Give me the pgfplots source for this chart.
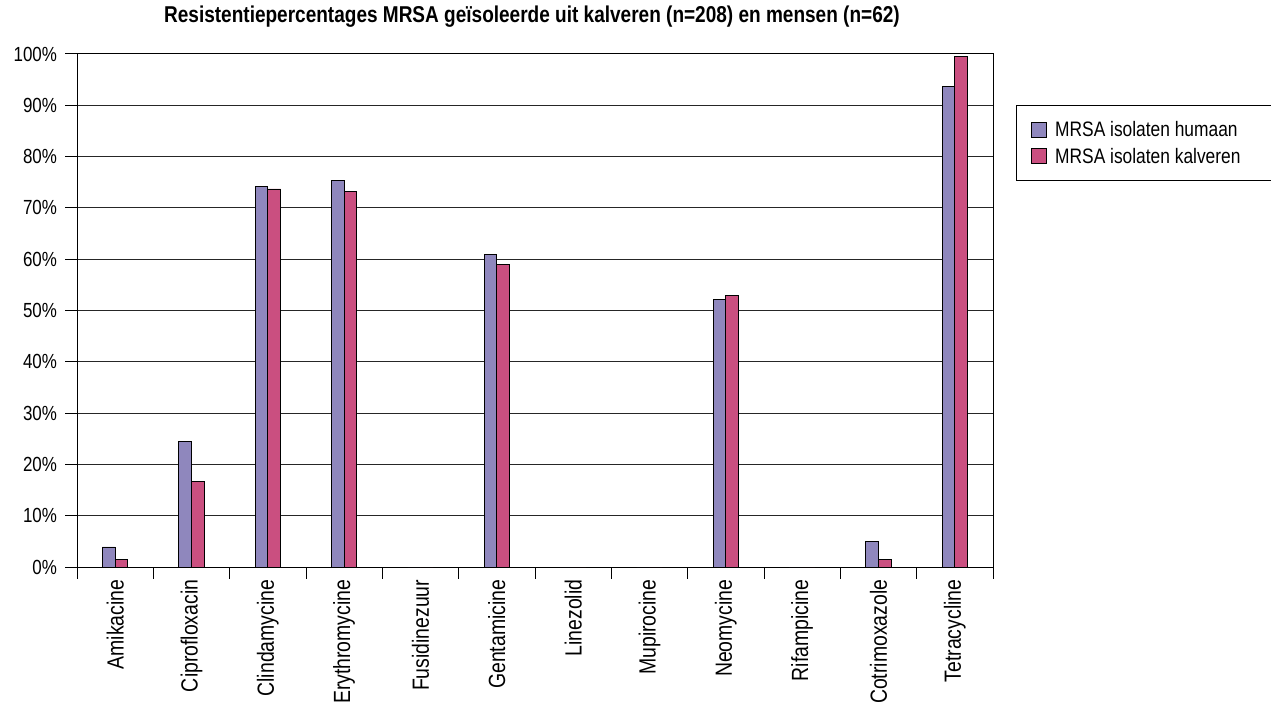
\documentclass[border=0pt]{standalone}
\usepackage{fontspec}
\setmainfont{Liberation Sans}[FakeStretch=0.83]
\usepackage{pgfplots}
\pgfplotsset{compat=1.18}

\definecolor{humaan}{HTML}{8F87BD}
\definecolor{kalver}{HTML}{CA4F80}

\begin{document}
\begin{tikzpicture}
\useasboundingbox (0,0) rectangle (1271bp,702bp);
\clip (0,0) rectangle (1271bp,702bp);
\begin{axis}[
  at={(77bp,135bp)}, anchor=south west,
  width=916bp, height=513bp, scale only axis,
  xmin=-0.5, xmax=11.5, ymin=0, ymax=100,
  axis line style={black, line width=1bp},
  xtick={-0.5,0.5,...,11.5},
  x tick label as interval,
  xticklabels={Amikacine,Ciprofloxacin,Clindamycine,Erythromycine,Fusidinezuur,Gentamicine,Linezolid,Mupirocine,Neomycine,Rifampicine,Cotrimoxazole,Tetracycline},
  xticklabel style={rotate=90, anchor=east, inner sep=1bp, font=\fontsize{23.5}{27}\selectfont},
  ytick={0,10,...,100},
  yticklabels={0\%,10\%,20\%,30\%,40\%,50\%,60\%,70\%,80\%,90\%,100\%},
  yticklabel style={font=\fontsize{20.5}{24}\selectfont, xshift=-5bp},
  xtick pos=bottom, ytick pos=left,
  tick align=outside,
  major tick length=11.5bp,
  tick style={black, line width=1bp},
  ymajorgrids,
  major grid style={black!85, line width=1bp},
  ybar=0pt,
  bar width=12.7bp,
  title={\bfseries Resistentiepercentages MRSA geïsoleerde uit kalveren (n=208) en mensen (n=62)},
  title style={at={(axis description cs:0.4967,1.0604)}, anchor=center, font=\fontsize{23}{27}\selectfont, inner sep=0pt},
  legend style={at={(axis description cs:1.0251,0.9006)}, anchor=north west,
    draw=black, line width=0.8bp, inner xsep=15bp, inner ysep=14bp,
    font=\fontsize{21}{25}\selectfont, cells={anchor=west}, row sep=6bp},
  legend image code/.code={\draw[#1, line width=0.8bp] (0bp,-7.5bp) rectangle (15bp,7.5bp);},
]
\addplot[draw=black, line width=0.8bp, fill=humaan] coordinates {
  (0,3.9) (1,24.5) (2,74.2) (3,75.4) (4,0) (5,60.9)
  (6,0) (7,0) (8,52.2) (9,0) (10,5.0) (11,93.7)};
\addplot[draw=black, line width=0.8bp, fill=kalver] coordinates {
  (0,1.5) (1,16.7) (2,73.7) (3,73.2) (4,0) (5,58.9)
  (6,0) (7,0) (8,52.9) (9,0) (10,1.5) (11,99.5)};
\legend{\hspace*{6bp}\makebox[240bp][l]{MRSA isolaten humaan},\hspace*{6bp}\makebox[240bp][l]{MRSA isolaten kalveren}}
\end{axis}
\end{tikzpicture}
\end{document}
